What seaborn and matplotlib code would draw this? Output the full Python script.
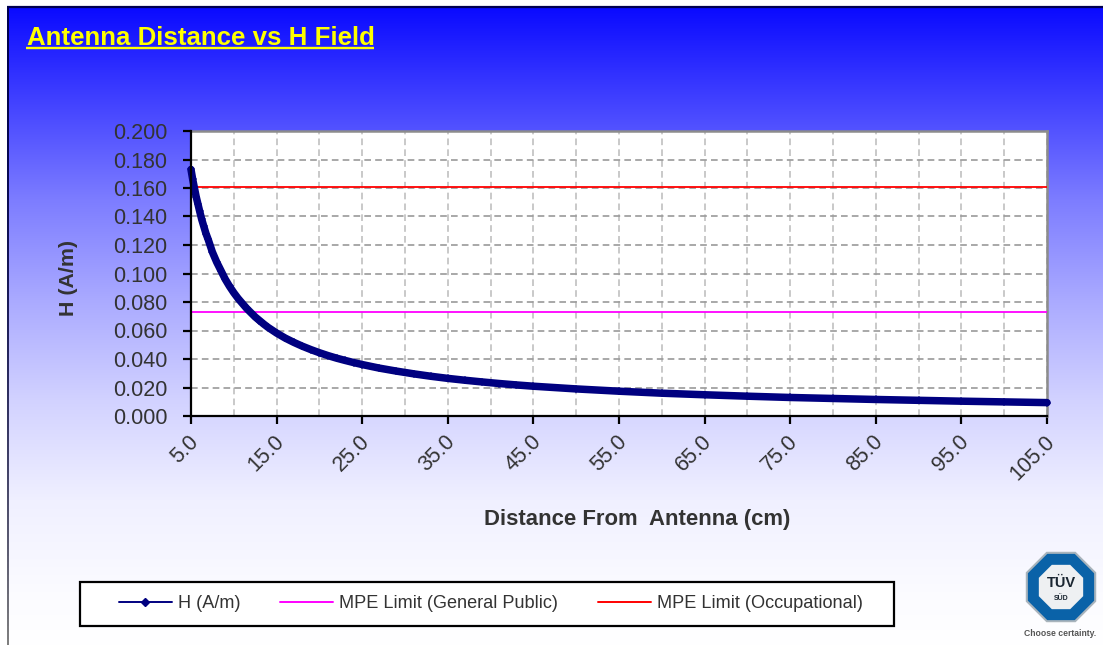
import numpy as np
import pandas as pd
import seaborn as sns
import matplotlib.pyplot as plt
from matplotlib.lines import Line2D
from matplotlib.patches import RegularPolygon, Rectangle
from matplotlib.transforms import ScaledTranslation

# values
distance = [5.0, 5.2, 5.4, 5.6, 5.8, 6.0, 6.25, 6.5, 6.75, 7.0, 7.5, 8.0, 8.5, 9.0, 9.5,
            10.0, 10.5, 11.0, 11.5, 12.0, 12.5, 13.0, 13.5, 14.0, 14.5, 15.0, 16.0, 17.0,
            18.0, 19.0, 20.0, 21.0, 22.0, 23.0, 24.0, 25.0, 27.0, 29.0, 31.0, 33.0, 35.0,
            37.0, 39.0, 41.0, 43.0, 45.0, 50.0, 55.0, 60.0, 65.0, 70.0, 75.0, 80.0, 85.0,
            90.0, 95.0, 100.0, 105.0]
h_field = [0.173, 0.166, 0.160, 0.154, 0.149, 0.144, 0.138, 0.133, 0.128, 0.124, 0.115,
           0.108, 0.102, 0.096, 0.091, 0.0865, 0.0825, 0.079, 0.0755, 0.0725, 0.0695,
           0.067, 0.0645, 0.0622, 0.0602, 0.0582, 0.0547, 0.0517, 0.049, 0.0466, 0.0444,
           0.0424, 0.0406, 0.039, 0.0375, 0.0361, 0.0336, 0.0315, 0.0296, 0.0279, 0.0264,
           0.0251, 0.0239, 0.0228, 0.0218, 0.0209, 0.019, 0.0174, 0.016, 0.0149, 0.0139,
           0.013, 0.0123, 0.0116, 0.011, 0.0104, 0.0099, 0.0094]
limit_public = 0.073
limit_occupational = 0.161
x_ticks = [5, 15, 25, 35, 45, 55, 65, 75, 85, 95, 105]
x_grid = [10, 20, 30, 40, 50, 60, 70, 80, 90, 100]
y_ticks = [0.0, 0.02, 0.04, 0.06, 0.08, 0.1, 0.12, 0.14, 0.16, 0.18, 0.2]

NAVY = '#000080'
W, H = 1103, 645

sns.set_theme(style='white')
plt.rcParams['font.family'] = ['Liberation Sans', 'DejaVu Sans']

fig = plt.figure(figsize=(W / 100, H / 100), dpi=100, facecolor='white')

# background layer in pixel coordinates: gradient, frame and logo
bg = fig.add_axes([0, 0, 1, 1], zorder=0)
rows = np.arange(7, H)
level = np.interp(rows, [7, 100, 200, 300, 400, 500, 600, 645],
                  [10, 65, 125, 170, 210, 240, 252, 255])[:, None] / 255
grad = np.dstack([level, level, np.ones_like(level)])
bg.imshow(grad, extent=[7, W, H, 7], aspect='auto', zorder=0, interpolation='bilinear')

# left frame line fades from navy to grey going down
edge = np.linspace(0, 1, 100)[:, None]
edge_rgb = np.dstack([0.5 * edge ** 2, 0.5 * edge ** 2, 0.31 + 0.19 * edge ** 2])
bg.imshow(edge_rgb, extent=[6.5, 8.5, H, 7], aspect='auto', zorder=1)
bg.set_xlim(0, W)
bg.set_ylim(H, 0)
bg.axis('off')
bg.plot([6.5, W], [7, 7], color='#000050', lw=1.6, zorder=1, solid_capstyle='butt')

bg.text(27, 38, 'Antenna Distance vs H Field', color='#ffff00', fontsize=18.6,
        fontweight='bold', va='center', ha='left')
bg.plot([26, 374], [48, 48], color='#ffff00', lw=1.7, solid_capstyle='butt')

# logo
cx, cy = 1061, 587
bg.add_patch(RegularPolygon((cx, cy), 8, radius=37, orientation=np.pi / 8,
                            facecolor='#0a62a8', edgecolor='#a9b4bc', lw=1.5, zorder=2))
bg.add_patch(RegularPolygon((cx, cy), 8, radius=24, orientation=np.pi / 8,
                            facecolor='#eef0f2', edgecolor='none', zorder=3))
bg.text(cx, cy - 4, 'TÜV', color='#1a2530', fontsize=10.5, fontweight='bold',
        ha='center', va='center', zorder=4)
bg.text(cx, cy + 11, 'SÜD', color='#1a2530', fontsize=5, fontweight='bold',
        ha='center', va='center', zorder=4)
bg.text(1060, 633, 'Choose certainty.', color='#555555', fontsize=6.2,
        fontweight='bold', ha='center', va='center', zorder=4)

# chart
ax = fig.add_axes([191 / W, 1 - 416 / H, 856 / W, 285 / H], zorder=1)
ax.set_facecolor('white')

df = pd.DataFrame({'distance': distance, 'H': h_field})
sns.lineplot(data=df, x='distance', y='H', ax=ax, color=NAVY, lw=5.4, marker='D',
             markersize=4, markeredgewidth=0, clip_on=False, zorder=4, legend=False)
ax.axhline(limit_public, color='#ff00ff', lw=1.3, zorder=3)
ax.axhline(limit_occupational, color='#ff0000', lw=1.3, zorder=3)

ax.set_xlim(5, 105)
ax.set_ylim(0, 0.2)
ax.set_xticks(x_ticks)
ax.set_xticklabels([f'{v:.1f}' for v in x_ticks], rotation=45, ha='right',
                   rotation_mode='anchor', fontsize=15.5, color='#333333')
ax.set_yticks(y_ticks)
ax.set_yticklabels([f'{v:.3f}' for v in y_ticks], fontsize=15.5, color='#333333')
ax.tick_params(axis='x', length=6, width=1.6, color='black', bottom=True, pad=5)
ax.tick_params(axis='y', length=6, width=1.6, color='black', left=True, pad=11)

# the rotated labels sit a little left of their ticks
shift = ScaledTranslation(-3 / 100, 0, fig.dpi_scale_trans)
for lab in ax.get_xticklabels():
    lab.set_transform(lab.get_transform() + shift)

for v in x_ticks + x_grid:
    ax.axvline(v, color='#c0c0c0', lw=1.2, ls=(0, (4, 2.5)), zorder=1)
for v in y_ticks:
    ax.axhline(v, color='#9a9a9a', lw=1.2, ls=(0, (4, 2.5)), zorder=2)

for side in ['top', 'right']:
    ax.spines[side].set_visible(True)
    ax.spines[side].set_color('#8c8c8c')
    ax.spines[side].set_linewidth(1.8)
for side in ['left', 'bottom']:
    ax.spines[side].set_visible(True)
    ax.spines[side].set_color('black')
    ax.spines[side].set_linewidth(1.6)
    ax.spines[side].set_zorder(5)

bg.text(637, 520, 'Distance From  Antenna (cm)', color='#333333', fontsize=15.9,
        fontweight='bold', ha='center', va='center', zorder=5)
bg.text(68, 278, 'H (A/m)', color='#333333', fontsize=15.4, fontweight='bold',
        rotation=90, ha='center', va='center', zorder=5)
ax.set_xlabel('')
ax.set_ylabel('')

# legend box drawn apart so the inner padding can match
bg.add_patch(Rectangle((80, 582), 814, 44, facecolor='white', edgecolor='black',
                       lw=1.6, zorder=2))
handles = [
    Line2D([], [], color=NAVY, lw=1.4, marker='D', markersize=3.6),
    Line2D([], [], color='#ff00ff', lw=1.4),
    Line2D([], [], color='#ff0000', lw=1.4),
]
labels = ['H (A/m)', 'MPE Limit (General Public)', 'MPE Limit (Occupational)']
leg = fig.legend(handles, labels, ncol=3, loc='center left',
                 bbox_to_anchor=(119 / W, 1 - 604 / H), frameon=False, fontsize=13.1,
                 handlelength=2.9, handletextpad=0.33, columnspacing=2.2,
                 borderpad=0, borderaxespad=0, labelcolor='#333333')

fig.savefig('out.png', dpi=100)
